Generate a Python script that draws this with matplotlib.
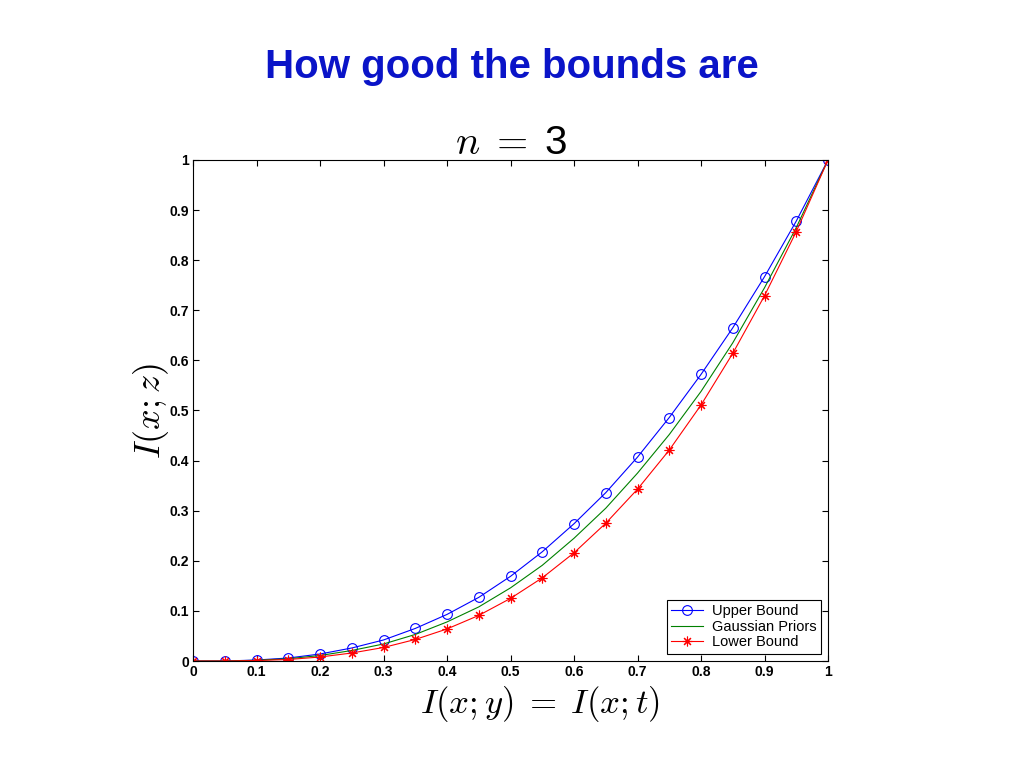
import matplotlib.pyplot as plt
import numpy as np

plt.rcParams['mathtext.fontset'] = 'cm'

x = [0, 0.05, 0.1, 0.15, 0.2, 0.25, 0.3, 0.35, 0.4, 0.45, 0.5,
     0.55, 0.6, 0.65, 0.7, 0.75, 0.8, 0.85, 0.9, 0.95, 1.0]
upper = [0, 0.0, 0.002, 0.006, 0.014, 0.026, 0.042, 0.065, 0.093, 0.127, 0.169,
         0.218, 0.274, 0.336, 0.407, 0.486, 0.572, 0.665, 0.767, 0.878, 1.0]
gauss = [0, 0.0, 0.0015, 0.0045, 0.011, 0.021, 0.034, 0.053, 0.078, 0.108, 0.146,
         0.191, 0.245, 0.305, 0.375, 0.452, 0.538, 0.635, 0.745, 0.865, 1.0]
lower = [0, 0.0, 0.001, 0.003, 0.008, 0.016, 0.027, 0.043, 0.064, 0.091, 0.125,
         0.166, 0.216, 0.275, 0.343, 0.421, 0.511, 0.614, 0.729, 0.857, 1.0]
ticks = ['0', '0.1', '0.2', '0.3', '0.4', '0.5', '0.6', '0.7', '0.8', '0.9', '1']

fig = plt.figure(figsize=(10.24, 7.68), dpi=100)
fig.text(0.5, 0.913, "How good the bounds are", ha='center', va='center',
         fontsize=29, fontweight='bold', color='#0a14c8', family='Liberation Sans')

ax = fig.add_axes([0.1885, 0.1393, 0.6201, 0.6524])
ax.plot(x, upper, color='#0000ff', lw=0.8, marker='o', ms=7, mfc='none',
        mew=0.8, label='Upper Bound')
ax.plot(x, gauss, color='#008000', lw=0.8, label='Gaussian Priors')
ax.plot(x, lower, color='#ff0000', lw=0.8, marker=(8, 2, 0), ms=7,
        mew=0.8, label='Lower Bound')

ax.set_xlim(0, 1)
ax.set_ylim(0, 1)
ax.set_xticks(np.linspace(0, 1, 11))
ax.set_yticks(np.linspace(0, 1, 11))
ax.set_xticklabels(ticks)
ax.set_yticklabels(ticks)
ax.tick_params(direction='in', top=True, right=True, length=4, width=0.8,
               labelsize=10, pad=3)
for lab in ax.get_xticklabels() + ax.get_yticklabels():
    lab.set_family('Liberation Sans')
    lab.set_fontweight('bold')
for s in ax.spines.values():
    s.set_linewidth(0.8)

ax.set_title(r'$n\;=\;$3', fontsize=29, pad=4, family='Liberation Sans')
ax.set_xlabel(r'$I(x;y)\;=\;I(x;t)$', fontsize=25)
ax.xaxis.set_label_coords(0.546, -0.045)
ax.set_ylabel(r'$I(x;z)$', fontsize=26, labelpad=-1)

leg = ax.legend(loc='lower right', fancybox=False, edgecolor='black',
                framealpha=1, borderaxespad=0.5, handlelength=2.2,
                prop={'family': 'Liberation Sans', 'size': 10.5},
                labelspacing=0.1, borderpad=0.3, handletextpad=0.6)
leg.get_frame().set_linewidth(0.8)

fig.savefig('out.png', dpi=100)
